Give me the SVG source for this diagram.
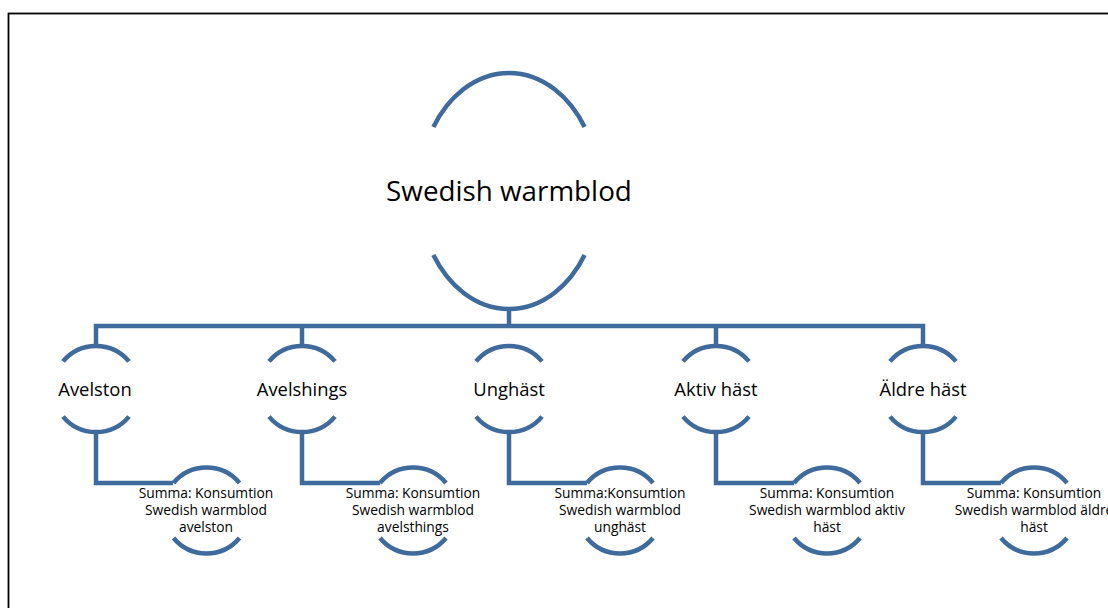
<svg xmlns="http://www.w3.org/2000/svg" width="1108" height="608" viewBox="0 0 1108 608">
<style>
.arc{fill:none;stroke:#3F6A9C;stroke-width:4.5}
.con{fill:none;stroke:#3F6A9C;stroke-width:4.5;stroke-linejoin:miter}
text{font-family:"Open Sans","Liberation Sans",sans-serif;fill:#000;text-anchor:middle}
.t1{font-size:27.8px}
.t2{font-size:18.4px}
.t3{font-size:13.8px}
</style>
<rect x="0" y="0" width="1108" height="608" fill="#fff"/>
<rect x="8.5" y="13.5" width="1120" height="620" fill="none" stroke="#000" stroke-width="1.8"/>
<g id="connectors">
<path class="con" d="M509 308 V326 M96 346 V326 H923 V346 M302 326 V346 M716 326 V346"/>
<path class="con" d="M96 433 V483 H173"/>
<path class="con" d="M302 433 V483 H380"/>
<path class="con" d="M509 433 V483 H587"/>
<path class="con" d="M716 433 V483 H794"/>
<path class="con" d="M923 433 V483 H1001"/>
</g>
<g id="main">
<path class="arc" d="M433.4 127 A90 118 0 0 1 584.6 127"/>
<path class="arc" d="M433.4 255 A90 118 0 0 0 584.6 255"/>
<text class="t1" x="509" y="201">Swedish warmblod</text>
</g>
<g id="n1">
<path class="arc" d="M63 361.4 A43 43 0 0 1 129 361.4"/>
<path class="arc" d="M63 416.6 A43 43 0 0 0 129 416.6"/>
<text class="t2" x="95" y="395.5">Avelston</text>
</g>
<g id="n2">
<path class="arc" d="M269 361.4 A43 43 0 0 1 335 361.4"/>
<path class="arc" d="M269 416.6 A43 43 0 0 0 335 416.6"/>
<text class="t2" x="302" y="395.5">Avelshings</text>
</g>
<g id="n3">
<path class="arc" d="M476 361.4 A43 43 0 0 1 542 361.4"/>
<path class="arc" d="M476 416.6 A43 43 0 0 0 542 416.6"/>
<text class="t2" x="509" y="395.5">Unghäst</text>
</g>
<g id="n4">
<path class="arc" d="M683 361.4 A43 43 0 0 1 749 361.4"/>
<path class="arc" d="M683 416.6 A43 43 0 0 0 749 416.6"/>
<text class="t2" x="716" y="395.5">Aktiv häst</text>
</g>
<g id="n5">
<path class="arc" d="M890 361.4 A43 43 0 0 1 956 361.4"/>
<path class="arc" d="M890 416.6 A43 43 0 0 0 956 416.6"/>
<text class="t2" x="923" y="395.5">Äldre häst</text>
</g>
<g id="c1">
<path class="arc" d="M173.5 483 A43 43 0 0 1 239.5 483"/>
<path class="arc" d="M173.5 538 A43 43 0 0 0 239.5 538"/>
<text class="t3" x="206"><tspan x="206" y="498">Summa: Konsumtion</tspan><tspan x="206" y="515">Swedish warmblod</tspan><tspan x="206" y="532">avelston</tspan></text>
</g>
<g id="c2">
<path class="arc" d="M380 483 A43 43 0 0 1 446 483"/>
<path class="arc" d="M380 538 A43 43 0 0 0 446 538"/>
<text class="t3" x="413"><tspan x="413" y="498">Summa: Konsumtion</tspan><tspan x="413" y="515">Swedish warmblod</tspan><tspan x="413" y="532">avelsthings</tspan></text>
</g>
<g id="c3">
<path class="arc" d="M587 483 A43 43 0 0 1 653 483"/>
<path class="arc" d="M587 538 A43 43 0 0 0 653 538"/>
<text class="t3" x="620"><tspan x="620" y="498">Summa:Konsumtion</tspan><tspan x="620" y="515">Swedish warmblod</tspan><tspan x="620" y="532">unghäst</tspan></text>
</g>
<g id="c4">
<path class="arc" d="M794 483 A43 43 0 0 1 860 483"/>
<path class="arc" d="M794 538 A43 43 0 0 0 860 538"/>
<text class="t3" x="827"><tspan x="827" y="498">Summa: Konsumtion</tspan><tspan x="827" y="515">Swedish warmblod aktiv</tspan><tspan x="827" y="532">häst</tspan></text>
</g>
<g id="c5">
<path class="arc" d="M1001 483 A43 43 0 0 1 1067 483"/>
<path class="arc" d="M1001 538 A43 43 0 0 0 1067 538"/>
<text class="t3" x="1034"><tspan x="1034" y="498">Summa: Konsumtion</tspan><tspan x="1034" y="515">Swedish warmblod äldre</tspan><tspan x="1034" y="532">häst</tspan></text>
</g>
</svg>
